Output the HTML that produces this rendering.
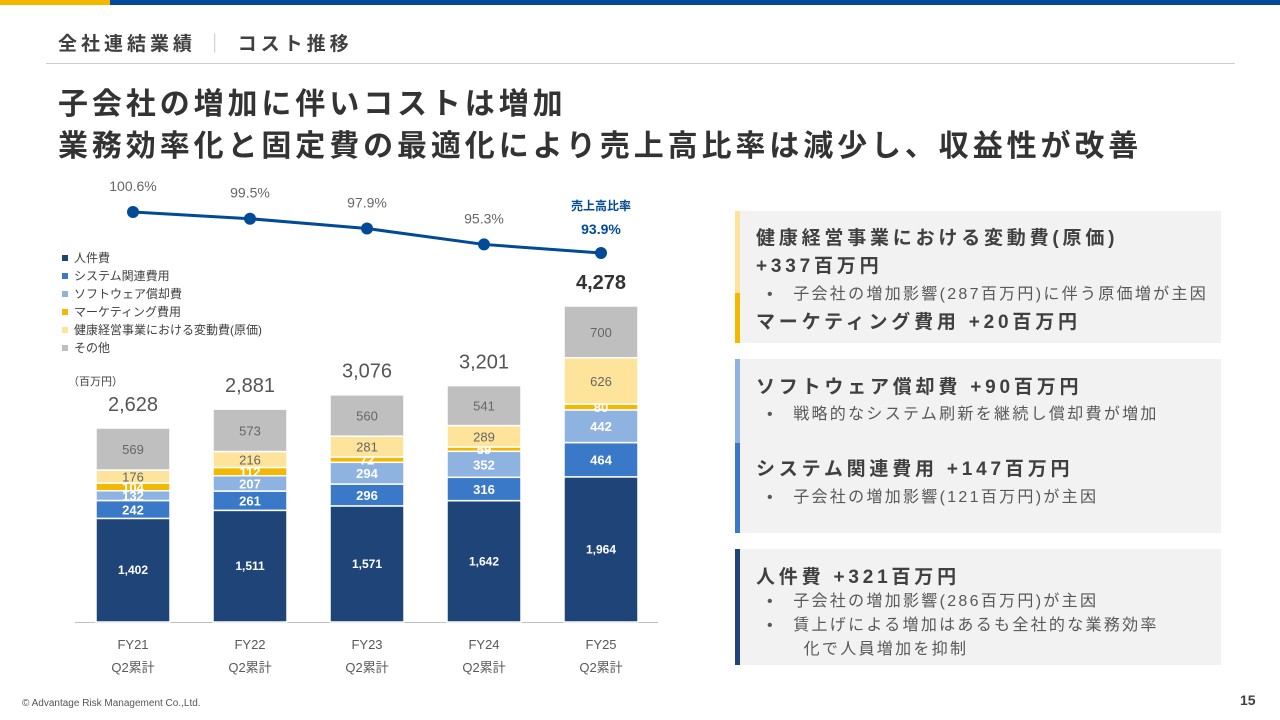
<!DOCTYPE html>
<html><head><meta charset="utf-8">
<style>
*{margin:0;padding:0;box-sizing:border-box}
body{width:1280px;height:720px;position:relative;background:#fff;font-family:"Liberation Sans","Noto Sans CJK JP",sans-serif;color:#404040;overflow:hidden}
.abs{position:absolute}
.box{position:absolute;left:735px;width:486px;background:#f2f2f2}
.acc{position:absolute;left:0;width:5px}
.h{font-weight:bold;font-size:19px;letter-spacing:3.8px;color:#404040;white-space:nowrap}
.b{font-size:16px;color:#595959;white-space:nowrap;letter-spacing:2.3px}
</style></head><body>
<div class="abs" style="left:0;top:0;width:110px;height:5px;background:#f5b800"></div>
<div class="abs" style="left:110px;top:0;width:1170px;height:5px;background:#004a98"></div>
<div class="abs" style="left:58px;top:29px;font-size:19px;font-weight:bold;letter-spacing:4px;color:#404040;white-space:nowrap">全社連結業績 <span style="color:#bbb;font-weight:normal">｜</span> コスト推移</div>
<div class="abs" style="left:46px;top:63px;width:1189px;height:1px;background:#ccc"></div>
<div class="abs" style="left:58px;top:84px;font-size:30px;font-weight:bold;line-height:42px;letter-spacing:3.9px;color:#333;white-space:nowrap">子会社の増加に伴いコストは増加<br>業務効率化と固定費の最適化により売上高比率は減少し、収益性が改善</div>

<svg class="abs" style="left:0;top:0" width="730" height="700" id="chart"></svg>

<div class="box" style="top:211px;height:132px">
<div class="acc" style="top:0;height:82px;background:#fde49a"></div>
<div class="acc" style="top:82px;height:50px;background:#f5b800"></div>
<div class="abs h" style="left:21px;top:12px">健康経営事業における変動費(原価)</div>
<div class="abs h" style="left:21px;top:40px">+337百万円</div>
<div class="abs b" style="left:32px;top:69px">•　子会社の増加影響(287百万円)に伴う原価増が主因</div>
<div class="abs h" style="left:21px;top:96px">マーケティング費用 +20百万円</div>
</div>
<div class="box" style="top:359px;height:174px">
<div class="acc" style="top:0;height:84px;background:#8eb3e0"></div>
<div class="acc" style="top:84px;height:90px;background:#3a78c8"></div>
<div class="abs h" style="left:21px;top:13px">ソフトウェア償却費 +90百万円</div>
<div class="abs b" style="left:32px;top:41px">•　戦略的なシステム刷新を継続し償却費が増加</div>
<div class="abs h" style="left:21px;top:95px">システム関連費用 +147百万円</div>
<div class="abs b" style="left:32px;top:124px">•　子会社の増加影響(121百万円)が主因</div>
</div>
<div class="box" style="top:549px;height:116px">
<div class="acc" style="top:0;height:116px;background:#1f4478"></div>
<div class="abs h" style="left:21px;top:13px">人件費 +321百万円</div>
<div class="abs b" style="left:32px;top:41px;line-height:24px">•　子会社の増加影響(286百万円)が主因<br>•　賃上げによる増加はあるも全社的な業務効率<br>　　化で人員増加を抑制</div>
</div>
<div class="abs" style="left:22px;top:698px;font-size:10px;color:#555">© Advantage Risk Management Co.,Ltd.</div>
<div class="abs" style="left:1240px;top:692px;font-size:14px;font-weight:bold;color:#404040">15</div>

<script>
const categories=["FY21","FY22","FY23","FY24","FY25"];
const personnel=[1402,1511,1571,1642,1964];
const system=[242,261,296,316,464];
const software=[132,207,294,352,442];
const marketing=[104,112,72,59,80];
const variable=[176,216,281,289,626];
const other=[569,573,560,541,700];
const totals=[2628,2881,3076,3201,4278];
const ratio=[100.6,99.5,97.9,95.3,93.9];
const ratioLabels=["100.6%","99.5%","97.9%","95.3%","93.9%"];
const totalLabels=["2,628","2,881","3,076","3,201","4,278"];

const NS="http://www.w3.org/2000/svg";
const svg=document.getElementById('chart');
const base=622, k=0.0739, x0=133, step=117, bw=74;
const X=i=>x0+i*step;
const Y=v=>base-v*k;
const RY=r=>212+(100.6-r)*6.12;
function mk(t,a){const e=document.createElementNS(NS,t);for(const n in a)e.setAttribute(n,a[n]);svg.appendChild(e);return e;}
function txt(x,y,s,size,fill,bold,anchor){const e=mk('text',{x:x,y:y,'font-size':size,fill:fill,'text-anchor':anchor||'middle','font-family':'"Liberation Sans","Noto Sans CJK JP",sans-serif'});if(bold)e.setAttribute('font-weight','bold');e.textContent=s;return e;}

const series=[
 {name:'personnel',vals:personnel,c:'#1f4478',t:'#fff',label:'人件費'},
 {name:'system',vals:system,c:'#3a78c8',t:'#fff',label:'システム関連費用'},
 {name:'software',vals:software,c:'#8eb3e0',t:'#fff',label:'ソフトウェア償却費'},
 {name:'marketing',vals:marketing,c:'#f5b800',t:'#fff',label:'マーケティング費用'},
 {name:'variable',vals:variable,c:'#fde49a',t:'#666',label:'健康経営事業における変動費(原価)'},
 {name:'other',vals:other,c:'#bfbfbf',t:'#666',label:'その他'}];

const axis=mk('line',{x1:75,x2:658,y1:base+0.5,y2:base+0.5,stroke:'#bfbfbf','stroke-width':1});



categories.forEach((c,i)=>{
  let cum=0;
  series.forEach(s=>{
    const v=s.vals[i];
    const y1=Y(cum+v), y0=Y(cum);
    const r=mk('rect',{x:X(i)-bw/2,y:y1,width:bw,height:y0-y1,fill:s.c,stroke:'#fff','stroke-width':1.5});
    
    
    const ty=(y0+y1)/2+(s.name==='personnel'?4:5);
    const t=txt(X(i),ty,String(v).replace(/\B(?=(\d{3})+(?!\d))/g,','),s.name==='personnel'?12:13,s.t,s.name==='personnel'||s.t==='#fff');
    
    
    cum+=v;
  });
  const tl=txt(X(i),Y(totals[i])-17,totalLabels[i],20,i===4?'#333':'#555',i===4);
  
  
  const c1=txt(X(i),649,c,13,'#595959');
  
  
  const c2=txt(X(i),672,'Q2累計',13,'#595959');
  
  
});

const pts=ratio.map((r,i)=>X(i)+','+RY(r)).join(' ');
const pl=mk('polyline',{points:pts,fill:'none',stroke:'#004a98','stroke-width':3});


ratio.forEach((r,i)=>{
  const d=mk('circle',{cx:X(i),cy:RY(r),r:6,fill:'#004a98'});
  
  
  const t=i===4?txt(X(i),RY(r)-19,ratioLabels[i],14,'#004a98',true):txt(X(i),RY(r)-21,ratioLabels[i],14,'#666');
  
  
});
const rt=txt(X(4),210,'売上高比率',12,'#004a98',true);



series.forEach((s,j)=>{
  const y=258+j*18;
  const r=mk('rect',{x:62,y:y-3,width:6,height:6,fill:s.c});
  
  
  const t=txt(74,y+4,s.label,12,'#404040',false,'start');
  
  
});
const u=txt(68,385,'（百万円）',11,'#404040',false,'start');


</script>
</body></html>
